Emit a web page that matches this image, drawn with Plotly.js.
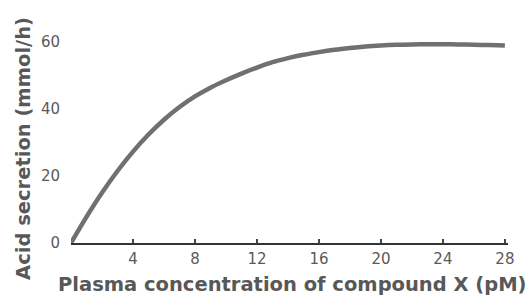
<!DOCTYPE html>
<html><head><meta charset="utf-8">
<script src="https://cdn.plot.ly/plotly-3.0.1.min.js"></script>
<style>html,body{margin:0;padding:0;background:#fff}#c{width:532px;height:298px}</style>
</head><body><div id="c"></div>
<script>
const concentration = [0,1,2,3,4,5,6,7,8,9,10,11,12,13,14,15,16,17,18,19,20,21,22,23,24,25,26,27,28];
const acidSecretion = [0,7.8,15,21.5,27.3,32.4,36.8,40.6,43.8,46.4,48.6,50.6,52.4,54,55.2,56.2,57,57.7,58.25,58.7,59,59.2,59.3,59.35,59.35,59.3,59.2,59.1,59];
const xTicks = [4,8,12,16,20,24,28];
const yTicks = [0,20,40,60];
const xTitle = 'Plasma concentration of compound X (pM)';
const yTitle = 'Acid secretion (mmol/h)';

const curve = {x: concentration, y: acidSecretion, type:'scatter', mode:'lines',
  line:{color:'#707070', width:4.5, shape:'spline', smoothing:1}, hoverinfo:'skip'};

const titleFont = {family:'DejaVu Sans, Arial, sans-serif', size:19.5, color:'#585858', weight:'bold'};
const layout = {
  width:532, height:298, showlegend:false,
  paper_bgcolor:'#fff', plot_bgcolor:'#fff',
  margin:{l:71, r:24, t:20, b:55},
  font:{family:'DejaVu Sans, Arial, sans-serif', color:'#555'},
  xaxis:{range:[0,28.2], tickvals:xTicks, ticktext:xTicks.map(String), showgrid:false, zeroline:false,
    showline:true, linecolor:'#333', linewidth:2, ticks:'inside', ticklen:4, tickcolor:'#444', tickwidth:1.5,
    tickfont:{size:15, color:'#5a5a5a'}, ticklabelstandoff:1},
  yaxis:{range:[0,66.6], tickvals:yTicks, ticktext:yTicks.map(String), showgrid:false, zeroline:false,
    showline:false, ticks:'', tickfont:{size:15, color:'#5a5a5a'}, ticklabelstandoff:10},
  annotations:[
    {text:xTitle, xref:'paper', yref:'paper', x:0.508, y:-0.184, xanchor:'center', yanchor:'middle',
     showarrow:false, font:titleFont},
    {text:yTitle, xref:'paper', yref:'paper', x:-0.11, y:0.426, xanchor:'center', yanchor:'middle',
     textangle:-90, showarrow:false, font:titleFont}
  ]
};
Plotly.newPlot('c',[curve],layout,{displayModeBar:false,staticPlot:true});
</script></body></html>
